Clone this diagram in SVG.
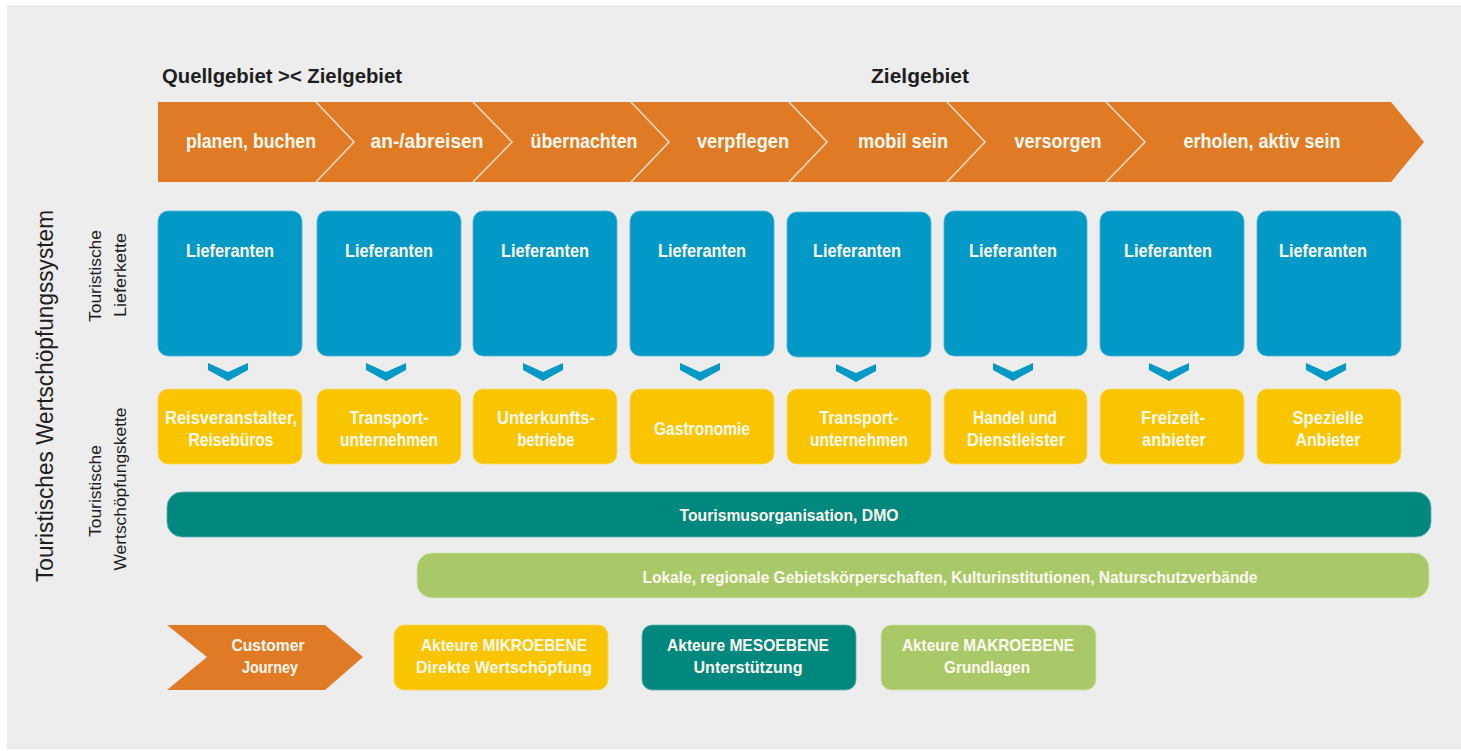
<svg xmlns="http://www.w3.org/2000/svg" width="1461" height="751" viewBox="0 0 1461 751">
<style>
text{font-family:"Liberation Sans",Arial,sans-serif;}
.w{fill:#fffaf0;font-weight:bold;text-anchor:middle;}
.ch{font-size:20px;}
.lf{font-size:17.5px;}
.yl{font-size:17.5px;}
.lg{font-size:17px;}
.hd{fill:#1e1e1e;font-size:21px;font-weight:bold;}
.vt{fill:#1e1e1e;text-anchor:middle;}
.blue{fill:#0399c6;stroke:#4fb6d8;stroke-width:0.8;}
.yel{fill:#f8c500;stroke:#fbdc6a;stroke-width:0.8;}
.teal{fill:#00877e;stroke:#5fb3ad;stroke-width:0.8;}
.grn{fill:#a9c968;stroke:#d3e3b3;stroke-width:0.8;}
.org{fill:#e07a24;}
.sep{fill:none;stroke:#f6dcc4;stroke-width:1.6;}
.arr{fill:#0399c6;}
</style>
<rect x="0" y="0" width="1461" height="751" fill="#ffffff"/>
<rect x="7" y="5" width="1454" height="744" fill="#ededed"/>

<g id="headers">
<text class="hd" x="162" y="83" textLength="240" lengthAdjust="spacingAndGlyphs">Quellgebiet &gt;&lt; Zielgebiet</text>
<text class="hd" x="871" y="83" textLength="98" lengthAdjust="spacingAndGlyphs">Zielgebiet</text>
</g>

<g id="side-labels">
<text class="vt" transform="translate(53,396) rotate(-90)" font-size="23" textLength="372" lengthAdjust="spacingAndGlyphs">Touristisches Wertschöpfungssystem</text>
<text class="vt" transform="translate(101,276) rotate(-90)" font-size="17" textLength="92" lengthAdjust="spacingAndGlyphs">Touristische</text>
<text class="vt" transform="translate(126,275) rotate(-90)" font-size="17" textLength="84" lengthAdjust="spacingAndGlyphs">Lieferkette</text>
<text class="vt" transform="translate(101,491) rotate(-90)" font-size="17" textLength="92" lengthAdjust="spacingAndGlyphs">Touristische</text>
<text class="vt" transform="translate(126,489) rotate(-90)" font-size="17" textLength="163" lengthAdjust="spacingAndGlyphs">Wertschöpfungskette</text>
</g>

<g id="customer-journey-band">
<polygon class="org" points="158,102 1391,102 1424,142 1391,182 158,182"/>
<text class="w ch" x="251" y="148" textLength="130" lengthAdjust="spacingAndGlyphs">planen, buchen</text>
<text class="w ch" x="427" y="148" textLength="113" lengthAdjust="spacingAndGlyphs">an-/abreisen</text>
<text class="w ch" x="584" y="148" textLength="107" lengthAdjust="spacingAndGlyphs">übernachten</text>
<text class="w ch" x="743" y="148" textLength="92" lengthAdjust="spacingAndGlyphs">verpflegen</text>
<text class="w ch" x="903" y="148" textLength="90" lengthAdjust="spacingAndGlyphs">mobil sein</text>
<text class="w ch" x="1058" y="148" textLength="87" lengthAdjust="spacingAndGlyphs">versorgen</text>
<text class="w ch" x="1262" y="148" textLength="157" lengthAdjust="spacingAndGlyphs">erholen, aktiv sein</text>
</g>

<g id="connectors">
<polyline class="sep" points="316,102 354,142 316,182"/>
<polyline class="sep" points="473,102 512,142 473,182"/>
<polyline class="sep" points="631,102 669,142 631,182"/>
<polyline class="sep" points="789,102 827,142 789,182"/>
<polyline class="sep" points="947,102 985,142 947,182"/>
<polyline class="sep" points="1106,102 1145,142 1106,182"/>
<polygon class="arr" points="208,363 228,372 248,363 248,370 228,381 208,370"/>
<polygon class="arr" points="366,363 386,372 406,363 406,370 386,381 366,370"/>
<polygon class="arr" points="523,363 543,372 563,363 563,370 543,381 523,370"/>
<polygon class="arr" points="680,363 700,372 720,363 720,370 700,381 680,370"/>
<polygon class="arr" points="836,364 856,373 876,364 876,371 856,382 836,371"/>
<polygon class="arr" points="993,363 1013,372 1033,363 1033,370 1013,381 993,370"/>
<polygon class="arr" points="1149,363 1169,372 1189,363 1189,370 1169,381 1149,370"/>
<polygon class="arr" points="1306,363 1326,372 1346,363 1346,370 1326,381 1306,370"/>
</g>

<g id="lieferanten-1"><rect class="blue" x="158" y="211" width="144" height="145" rx="10"/><text class="w lf" x="230" y="257" textLength="88" lengthAdjust="spacingAndGlyphs">Lieferanten</text></g>
<g id="lieferanten-2"><rect class="blue" x="317" y="211" width="144" height="145" rx="10"/><text class="w lf" x="389" y="257" textLength="88" lengthAdjust="spacingAndGlyphs">Lieferanten</text></g>
<g id="lieferanten-3"><rect class="blue" x="473" y="211" width="144" height="145" rx="10"/><text class="w lf" x="545" y="257" textLength="88" lengthAdjust="spacingAndGlyphs">Lieferanten</text></g>
<g id="lieferanten-4"><rect class="blue" x="630" y="211" width="144" height="145" rx="10"/><text class="w lf" x="702" y="257" textLength="88" lengthAdjust="spacingAndGlyphs">Lieferanten</text></g>
<g id="lieferanten-5"><rect class="blue" x="787" y="212" width="144" height="145" rx="10"/><text class="w lf" x="857" y="257" textLength="88" lengthAdjust="spacingAndGlyphs">Lieferanten</text></g>
<g id="lieferanten-6"><rect class="blue" x="944" y="211" width="143" height="145" rx="10"/><text class="w lf" x="1013" y="257" textLength="88" lengthAdjust="spacingAndGlyphs">Lieferanten</text></g>
<g id="lieferanten-7"><rect class="blue" x="1100" y="211" width="144" height="145" rx="10"/><text class="w lf" x="1168" y="257" textLength="88" lengthAdjust="spacingAndGlyphs">Lieferanten</text></g>
<g id="lieferanten-8"><rect class="blue" x="1257" y="211" width="144" height="145" rx="10"/><text class="w lf" x="1323" y="257" textLength="88" lengthAdjust="spacingAndGlyphs">Lieferanten</text></g>

<g id="akteur-1"><rect class="yel" x="158" y="389" width="144" height="75" rx="10"/><text class="w yl" x="231" y="424" textLength="132" lengthAdjust="spacingAndGlyphs">Reisveranstalter,</text><text class="w yl" x="231" y="446" textLength="85" lengthAdjust="spacingAndGlyphs">Reisebüros</text></g>
<g id="akteur-2"><rect class="yel" x="317" y="389" width="144" height="75" rx="10"/><text class="w yl" x="389" y="424" textLength="79" lengthAdjust="spacingAndGlyphs">Transport-</text><text class="w yl" x="389" y="446" textLength="98" lengthAdjust="spacingAndGlyphs">unternehmen</text></g>
<g id="akteur-3"><rect class="yel" x="473" y="389" width="144" height="75" rx="10"/><text class="w yl" x="546" y="424" textLength="98" lengthAdjust="spacingAndGlyphs">Unterkunfts-</text><text class="w yl" x="546" y="446" textLength="57" lengthAdjust="spacingAndGlyphs">betriebe</text></g>
<g id="akteur-4"><rect class="yel" x="630" y="389" width="144" height="75" rx="10"/><text class="w yl" x="702" y="435" textLength="96" lengthAdjust="spacingAndGlyphs">Gastronomie</text></g>
<g id="akteur-5"><rect class="yel" x="787" y="389" width="144" height="75" rx="10"/><text class="w yl" x="859" y="424" textLength="79" lengthAdjust="spacingAndGlyphs">Transport-</text><text class="w yl" x="859" y="446" textLength="98" lengthAdjust="spacingAndGlyphs">unternehmen</text></g>
<g id="akteur-6"><rect class="yel" x="944" y="389" width="143" height="75" rx="10"/><text class="w yl" x="1015" y="424" textLength="84" lengthAdjust="spacingAndGlyphs">Handel und</text><text class="w yl" x="1016" y="446" textLength="98" lengthAdjust="spacingAndGlyphs">Dienstleister</text></g>
<g id="akteur-7"><rect class="yel" x="1100" y="389" width="144" height="75" rx="10"/><text class="w yl" x="1173" y="424" textLength="64" lengthAdjust="spacingAndGlyphs">Freizeit-</text><text class="w yl" x="1174" y="446" textLength="64" lengthAdjust="spacingAndGlyphs">anbieter</text></g>
<g id="akteur-8"><rect class="yel" x="1257" y="389" width="144" height="75" rx="10"/><text class="w yl" x="1328" y="424" textLength="71" lengthAdjust="spacingAndGlyphs">Spezielle</text><text class="w yl" x="1328" y="446" textLength="65" lengthAdjust="spacingAndGlyphs">Anbieter</text></g>

<g id="dmo"><rect class="teal" x="167" y="492" width="1264" height="45" rx="15"/><text class="w" x="789" y="521" font-size="16.5" textLength="219" lengthAdjust="spacingAndGlyphs">Tourismusorganisation, DMO</text></g>
<g id="gebietskoerperschaften"><rect class="grn" x="417" y="553" width="1012" height="45" rx="15"/><text class="w" x="950" y="583" font-size="16.5" textLength="615" lengthAdjust="spacingAndGlyphs">Lokale, regionale Gebietskörperschaften, Kulturinstitutionen, Naturschutzverbände</text></g>

<g id="legend-customer-journey"><polygon class="org" points="167,625 325,625 363,657 325,690 167,690 207,657"/><text class="w lg" x="268" y="651" textLength="73" lengthAdjust="spacingAndGlyphs">Customer</text><text class="w lg" x="270" y="673" textLength="56" lengthAdjust="spacingAndGlyphs">Journey</text></g>
<g id="legend-mikro"><rect class="yel" x="394" y="625" width="214" height="65" rx="10"/><text class="w lg" x="504" y="651" textLength="166" lengthAdjust="spacingAndGlyphs">Akteure MIKROEBENE</text><text class="w lg" x="504" y="673" textLength="176" lengthAdjust="spacingAndGlyphs">Direkte Wertschöpfung</text></g>
<g id="legend-meso"><rect class="teal" x="642" y="625" width="214" height="65" rx="10"/><text class="w lg" x="748" y="651" textLength="162" lengthAdjust="spacingAndGlyphs">Akteure MESOEBENE</text><text class="w lg" x="748" y="673" textLength="109" lengthAdjust="spacingAndGlyphs">Unterstützung</text></g>
<g id="legend-makro"><rect class="grn" x="881" y="625" width="215" height="65" rx="10"/><text class="w lg" x="988" y="651" textLength="172" lengthAdjust="spacingAndGlyphs">Akteure MAKROEBENE</text><text class="w lg" x="987" y="673" textLength="86" lengthAdjust="spacingAndGlyphs">Grundlagen</text></g>
</svg>
